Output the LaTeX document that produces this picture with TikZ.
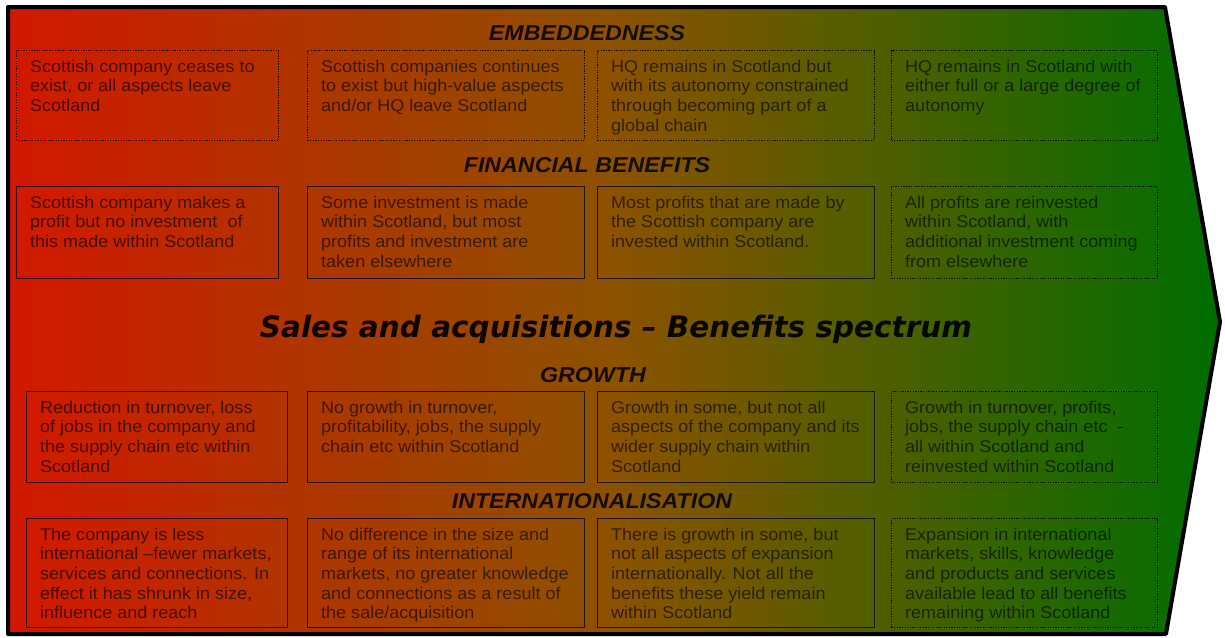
\documentclass[tikz,border=0pt]{standalone}
\usepackage{fontspec}
\newfontfamily\boxfont{Liberation Sans}[FakeStretch=1.06]
\newfontfamily\headfont{Liberation Sans}[FakeStretch=1.08]
\newfontfamily\titlefont{DejaVu Sans}
\definecolor{spred}{RGB}{210,24,0}
\definecolor{spmid}{RGB}{140,82,0}
\definecolor{spgreen}{RGB}{0,110,0}
\tikzset{
  cellbox/.style={rectangle,inner sep=0pt,draw=black,line width=1.2pt,draw opacity=0.75},
  solidbox/.style={},
  dotbox/.style={dash pattern=on 1.3pt off 1.3pt,line width=1.1pt,draw opacity=0.85},
  celltext/.style={inner sep=0pt,align=left,text=black,text opacity=0.62,
    font=\boxfont\fontsize{17}{19.6}\selectfont},
  headtext/.style={inner sep=0pt,text=black,text opacity=0.85,
    font=\headfont\bfseries\itshape\fontsize{21.5}{24}\selectfont},
  titletext/.style={inner sep=0pt,text=black,text opacity=0.92,
    font=\titlefont\bfseries\itshape\fontsize{29.5}{34}\selectfont},
  spectrum/.style={draw=black,line width=4pt,line join=round,
    left color=spred,right color=spgreen,middle color=spmid}
}
\newcommand{\mkcell}[7]{%
  \node[cellbox,#6,minimum width=#4pt,minimum height=#5pt,anchor=north west] (#1) at (#2,#3) {};
  \node[celltext,anchor=north west] (#1t) at ([xshift=14pt,yshift=-9pt]#1.north west) {\rule{0pt}{13pt}#7};
}
\begin{document}
\begin{tikzpicture}[x=1pt,y=-1pt]
\useasboundingbox[fill=white] (0,0) rectangle (1225,637);
\path[spectrum] (8,7) -- (1165,7) -- (1220,322) -- (1166,634) -- (8,634) -- cycle;

% headings
\node[headtext,anchor=base] (hemb) at (587,40) {EMBEDDEDNESS};
\node[headtext,anchor=base] (hfin) at (587,172) {FINANCIAL BENEFITS};
\node[titletext,anchor=base] (title) at (616,337) {Sales and acquisitions – Benefits spectrum};
\node[headtext,anchor=base] (hgro) at (593,382) {GROWTH};
\node[headtext,anchor=base] (hint) at (592,508) {INTERNATIONALISATION};

% row 1: embeddedness
\mkcell{ra}{16}{50}{262}{90}{dotbox}{Scottish company ceases to\\exist, or all aspects leave\\Scotland}
\mkcell{rb}{307}{50}{277}{90}{dotbox}{Scottish companies continues\\to exist but high-value aspects\\and/or HQ leave Scotland}
\mkcell{rc}{597}{50}{277}{90}{dotbox}{HQ remains in Scotland but\\with its autonomy constrained\\through becoming part of a\\global chain}
\mkcell{rd}{891}{50}{266}{90}{dotbox}{HQ remains in Scotland with\\either full or a large degree of\\autonomy}

% row 2: financial benefits
\mkcell{sa}{16}{186}{262}{92}{solidbox}{Scottish company makes a\\profit but no investment~ of\\this made within Scotland}
\mkcell{sb}{307}{186}{277}{92}{solidbox}{Some investment is made\\within Scotland, but most\\profits and investment are\\taken elsewhere}
\mkcell{sc}{597}{186}{277}{92}{solidbox}{Most profits that are made by\\the Scottish company are\\invested within Scotland.}
\mkcell{sd}{891}{186}{266}{92}{dotbox}{All profits are reinvested\\within Scotland, with\\additional investment coming\\from elsewhere}

% row 3: growth
\mkcell{ta}{26}{391}{261}{91}{solidbox}{Reduction in turnover, loss\\of jobs in the company and\\the supply chain etc within\\Scotland}
\mkcell{tb}{307}{391}{277}{91}{solidbox}{No growth in turnover,\\profitability, jobs, the supply\\chain etc within Scotland}
\mkcell{tc}{597}{391}{277}{91}{solidbox}{Growth in some, but not all\\aspects of the company and its\\wider supply chain within\\Scotland}
\mkcell{td}{891}{391}{266}{91}{dotbox}{Growth in turnover, profits,\\jobs, the supply chain etc~ -\\all within Scotland and\\reinvested within Scotland}

% row 4: internationalisation
\mkcell{ua}{26}{518}{261}{109}{solidbox}{The company is less\\international –fewer markets,\\services and connections. In\\effect it has shrunk in size,\\influence and reach}
\mkcell{ub}{307}{518}{277}{109}{solidbox}{No difference in the size and\\range of its international\\markets, no greater knowledge\\and connections as a result of\\the sale/acquisition}
\mkcell{uc}{597}{518}{277}{109}{solidbox}{There is growth in some, but\\not all aspects of expansion\\internationally. Not all the\\benefits these yield remain\\within Scotland}
\mkcell{ud}{891}{518}{266}{109}{dotbox}{Expansion in international\\markets, skills, knowledge\\and products and services\\available lead to all benefits\\remaining within Scotland}
\end{tikzpicture}
\end{document}
